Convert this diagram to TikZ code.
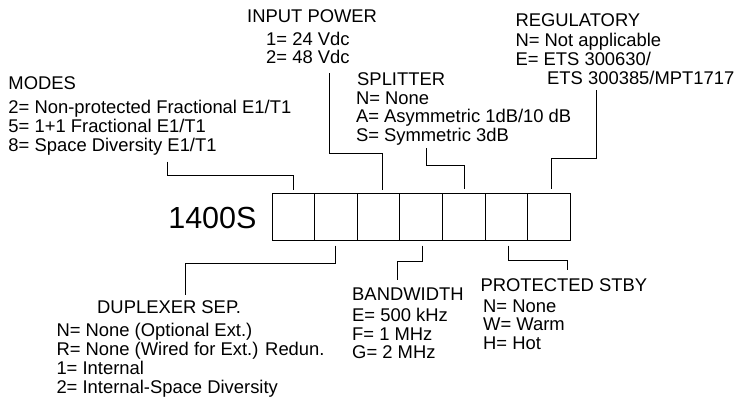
\documentclass[tikz,border=0pt]{standalone}
\usepackage{fontspec}
\setmainfont{Liberation Sans}
\usetikzlibrary{calc}
\newcommand{\fieldlist}[1]{\begin{tabular}[t]{@{}l@{}}#1\end{tabular}}

\begin{document}
\begin{tikzpicture}[x=1pt, y=-1pt, line width=1pt,
    txt/.style={font=\fontsize{18.4}{18.8}\selectfont, inner sep=0pt, anchor=base west},
    cell/.style={draw, minimum width=42.6pt, minimum height=47pt, inner sep=0pt}]
  \useasboundingbox (0,0) rectangle (738,400);
  % code boxes
  \foreach \i in {1,...,7} {
    \node[cell] (b\i) at ({272+42.6*(\i-0.5)},216.5) {};
  }
  \node[font=\fontsize{30.5}{32}\selectfont, inner sep=0pt, anchor=base east] (code) at (257,228.3) {1400S};
  % fields above
  \node[txt] (modt) at (8,89.3) {MODES};
  \node[txt, font=\fontsize{18.4}{19.2}\selectfont] (modl) at (8,113.3) {\fieldlist{2= Non-protected Fractional E1/T1\\5= 1+1 Fractional E1/T1\\8= Space Diversity E1/T1}};
  \node[txt] (pwrt) at (246.7,22.7) {INPUT POWER};
  \node[txt, font=\fontsize{18.4}{17.7}\selectfont] (pwrl) at (265.7,45) {\fieldlist{1= 24 Vdc\\2= 48 Vdc}};
  \node[txt] (splt) at (356.7,85) {SPLITTER};
  \node[txt, font=\fontsize{18.4}{17}\selectfont] (spll) at (355.5,104.3) {\fieldlist{N= None\\A= Asymmetric 1dB/10 dB\\S= Symmetric 3dB}};
  \node[txt] (regt) at (515,26) {REGULATORY};
  \node[txt, font=\fontsize{18.4}{18.2}\selectfont] (regl) at (515,46.7) {\fieldlist{N= Not applicable\\E= ETS 300630/\\\hspace*{31.7pt}ETS 300385/MPT1717}};
  % fields below
  \node[txt] (dupt) at (96.7,313.3) {DUPLEXER SEP.};
  \node[txt, font=\fontsize{18.4}{19}\selectfont] (dupl) at (56,336.7) {\fieldlist{N= None (Optional Ext.)\\R= None (Wired for Ext.) Redun.\\1= Internal\\2= Internal-Space Diversity}};
  \node[txt] (bwt) at (351.7,300) {BANDWIDTH};
  \node[txt, font=\fontsize{18.4}{18.3}\selectfont] (bwl) at (351.7,321.7) {\fieldlist{E= 500 kHz\\F= 1 MHz\\G= 2 MHz}};
  \node[txt] (stbt) at (480,291) {PROTECTED STBY};
  \node[txt, font=\fontsize{18.4}{18.5}\selectfont] (stbl) at (482.7,312.3) {\fieldlist{N= None\\W= Warm\\H= Hot}};
  % connectors
  \coordinate (m0) at (167.7,161.7);
  \coordinate (p0) at (329,73);
  \coordinate (s0) at (426.7,148.3);
  \coordinate (r0) at (596.7,90);
  \coordinate (d0) at (185,295);
  \coordinate (w0) at (397.7,280);
  \coordinate (t0) at (567.3,270);
  \draw (m0) -- ++(0,14) -| ($(b1.north)+(0,-3)$);
  \draw (p0) -- ++(0,80.3) -| ($(b3.north)+(4.2,-3)$);
  \draw (s0) -- ++(0,17.4) -| ($(b5.north)+(0.3,-4)$);
  \draw (r0) -- ++(0,68.3) -| ($(b7.north)+(2.8,-4)$);
  \draw ($(b2.south)+(0,5)$) -- ++(0,18.3) -| (d0);
  \draw ($(b4.south)+(1.6,5)$) -- ++(0,15.7) -| (w0);
  \draw ($(b6.south)+(2,5)$) -- ++(0,15) -| (t0);
\end{tikzpicture}
\end{document}
